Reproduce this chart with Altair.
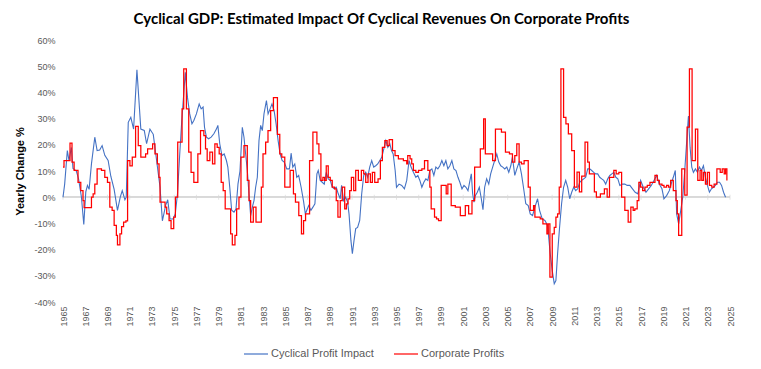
import altair as alt
import pandas as pd

# ---- data ----
blue_years = [1965.0, 1965.15, 1965.39, 1965.54, 1965.75, 1965.9, 1966.2, 1966.4, 1966.66, 1966.87,
              1967.05, 1967.2, 1967.35, 1967.56, 1967.86, 1968.07, 1968.3, 1968.52, 1968.76, 1969.06,
              1969.3, 1969.6, 1969.9, 1970.15, 1970.33, 1970.57, 1970.69, 1970.87, 1971.1, 1971.35,
              1971.65, 1971.83, 1972.0, 1972.31, 1972.52, 1972.82, 1973.12, 1973.42, 1973.73, 1973.94,
              1974.24, 1974.42, 1974.63, 1974.9, 1975.1, 1975.3, 1975.5, 1975.68, 1975.86, 1976.0,
              1976.2, 1976.4, 1976.6, 1976.77, 1977.0, 1977.25, 1977.43, 1977.6, 1977.73, 1977.9,
              1978.1, 1978.33, 1978.57, 1978.8, 1978.93, 1979.1, 1979.3, 1979.5, 1979.7, 1979.83,
              1980.0, 1980.17, 1980.38, 1980.56, 1980.74, 1980.92, 1981.13, 1981.28, 1981.43, 1981.58,
              1981.73, 1981.88, 1982.03, 1982.18, 1982.33, 1982.48, 1982.63, 1982.78, 1982.93, 1983.08,
              1983.3, 1983.45, 1983.63, 1983.8, 1983.99, 1984.17, 1984.35, 1984.53, 1984.71, 1984.9,
              1985.13, 1985.37, 1985.52, 1985.67, 1985.85, 1986.03, 1986.2, 1986.42, 1986.63, 1986.8,
              1986.93, 1987.1, 1987.3, 1987.48, 1987.66, 1987.84, 1987.96, 1988.14, 1988.32, 1988.5,
              1988.68, 1988.86, 1989.04, 1989.22, 1989.4, 1989.58, 1989.76, 1989.94, 1990.06, 1990.24,
              1990.43, 1990.6, 1990.73, 1990.9, 1991.03, 1991.18, 1991.33, 1991.5, 1991.69, 1991.87,
              1992.05, 1992.23, 1992.41, 1992.59, 1992.77, 1992.95, 1993.13, 1993.31, 1993.5, 1993.68,
              1993.86, 1994.04, 1994.22, 1994.4, 1994.55, 1994.7, 1994.88, 1995.0, 1995.23, 1995.47,
              1995.71, 1995.92, 1996.13, 1996.31, 1996.52, 1996.74, 1996.92, 1997.1, 1997.28, 1997.46,
              1997.64, 1997.82, 1998.0, 1998.18, 1998.36, 1998.54, 1998.72, 1998.9, 1999.08, 1999.26,
              1999.44, 1999.62, 1999.8, 1999.98, 2000.16, 2000.35, 2000.53, 2000.7, 2000.89, 2001.07,
              2001.25, 2001.43, 2001.61, 2001.73, 2001.85, 2001.97, 2002.09, 2002.27, 2002.45, 2002.63,
              2002.78, 2002.93, 2003.11, 2003.3, 2003.47, 2003.65, 2003.83, 2004.02, 2004.2, 2004.38,
              2004.56, 2004.74, 2004.92, 2005.1, 2005.28, 2005.43, 2005.64, 2005.82, 2006.03, 2006.24,
              2006.42, 2006.63, 2006.85, 2007.03, 2007.24, 2007.45, 2007.69, 2007.87, 2008.11, 2008.35,
              2008.59, 2008.83, 2009.01, 2009.19, 2009.34, 2009.49, 2009.67, 2009.85, 2010.03, 2010.22,
              2010.4, 2010.58, 2010.76, 2010.94, 2011.12, 2011.3, 2011.48, 2011.66, 2011.84, 2012.02,
              2012.2, 2012.38, 2012.56, 2012.74, 2012.92, 2013.1, 2013.28, 2013.46, 2013.64, 2013.82,
              2014.0, 2014.19, 2014.37, 2014.55, 2014.73, 2014.91, 2015.09, 2015.33, 2015.54, 2015.75,
              2015.99, 2016.23, 2016.47, 2016.71, 2016.96, 2017.2, 2017.44, 2017.68, 2017.92, 2018.16,
              2018.4, 2018.64, 2018.88, 2019.06, 2019.3, 2019.54, 2019.75, 2019.9, 2020.08, 2020.2,
              2020.38, 2020.57, 2020.75, 2020.93, 2021.11, 2021.26, 2021.41, 2021.56, 2021.71, 2021.89,
              2022.07, 2022.25, 2022.43, 2022.61, 2022.79, 2022.97, 2023.15, 2023.33, 2023.51, 2023.69,
              2023.88, 2024.06, 2024.24, 2024.42, 2024.6]
blue_values = [0, 5, 17.8, 14, 19, 11, 10, 7, 0, -10.4,
               2, 4.5, 3, 12.7, 22.9, 17.8, 18, 19.7, 16, 14,
               8, 3, -5, 0, 2.5, -1, 0, 28.6, 30.5, 26,
               48.6, 37, 26, 25.5, 20.4, 26, 24, 14, 3.8, -9,
               -3, -1, -8.3, -8.3, -6.4, 1.3, 16.5, 29, 39.4, 47.7,
               38, 31.8, 28, 29.3, 31.8, 35.6, 33.7, 34.4, 26.7, 22.9,
               22.3, 22.9, 24.2, 26, 27.4, 20.4, 15.9, 16.5, 14, 11.5,
               3.8, -5, -5.7, -4.5, 5, 10, 26.7, 22.9, 16.5, 10.2,
               1.3, -7, -3.8, -1.3, 3.8, 7.6, 21.6, 27.4, 25.4, 31.8,
               36.9, 31.8, 33.7, 35.6, 33, 28, 21.6, 16.5, 14, 13.4,
               10.8, 10.8, 16.8, 11.5, 12.7, 7.6, 8.3, 3.8, -1.3, -6.4,
               -5, -3.2, -5, -3.8, -2.5, 8.9, 10.2, 6.4, 5.7, 5,
               9.5, 7, 6.4, 3.8, 3.2, 3.8, 1.3, -0.6, 4.5, -1.3,
               0, -1.9, -6.4, -16.5, -21.6, -16.5, -12, -11.5, -8.9, 1.3,
               8.3, 9.5, 7.6, 11.5, 14, 11.5, 12, 12.7, 14, 15.3,
               18.4, 21.6, 19, 20.4, 17.8, 16.5, 10.2, 3.8, 5, 4.5,
               3.2, 6.4, 14, 11.5, 9.5, 7.6, 8.3, 6.4, 3.8, 5.7,
               7, 6.4, 10.2, 10.8, 8.3, 11.5, 10.8, 12, 14, 12,
               14, 10.8, 12, 14, 10.8, 10.2, 7.6, 5.7, 3.2, 4.5,
               3.8, 2.5, 6.4, 8.9, 1.3, -1.9, 0.6, 1.9, 3.8, -0.6,
               -4.8, 3.8, 7, 5, 8.9, 11.5, 14, 16.5, 13.4, 12,
               11.5, 10.8, 11.5, 9.5, 12, 15.3, 8.3, 10.8, 13.4, 8.9,
               3.8, -2.5, -3.2, -6.4, -7, -3.8, -0.6, -5, -8.3, -8.9,
               -10.8, -21.6, -28, -33, -31.8, -21.6, -11.5, -2.5, 3.8, 6.4,
               3.8, -0.6, 1.9, 3.8, 2.5, 3.2, 5.7, 6.4, 7, 7.6,
               10.8, 10.8, 10.2, 9.5, 8.9, 8.9, 7.6, 7, 6.4, 5,
               7, 8.3, 8.9, 9.5, 7.6, 7, 4.5, 5, 5, 4.5,
               4.5, 3.2, 1.9, 1.3, 6.4, 3.8, 1.9, 3.2, 4.5, 6.4,
               8.3, 5, 3.2, -0.6, 0.6, 2.5, 5.7, 7.6, 10.2, -6.4,
               -10.2, -5, 0, 10.2, 21.6, 31, 19, 11.5, 9.5, 10.8,
               9.5, 11.5, 10.2, 12, 7.6, 4.5, 1.9, 3.2, 3.8, 4.5,
               5.7, 5.7, 4.5, 1.9, 0]

red_years = [1965.0, 1965.09, 1965.63, 1965.81, 1966.0, 1966.35, 1966.6, 1966.8, 1966.9, 1967.56,
             1967.71, 1967.86, 1968.07, 1968.46, 1968.76, 1969.0, 1969.21, 1969.42, 1969.6, 1969.8,
             1969.9, 1970.12, 1970.27, 1970.45, 1970.66, 1970.81, 1971.02, 1971.23, 1971.53, 1971.77,
             1972.0, 1972.43, 1972.61, 1973.06, 1973.27, 1973.49, 1973.64, 1973.73, 1974.18, 1974.33,
             1974.54, 1974.72, 1974.96, 1975.11, 1975.32, 1975.71, 1975.86, 1976.1, 1976.31, 1976.52,
             1976.77, 1977.13, 1977.37, 1977.67, 1977.82, 1977.97, 1978.21, 1978.45, 1978.66, 1978.87,
             1979.05, 1979.23, 1979.41, 1979.59, 1980.08, 1980.23, 1980.47, 1980.62, 1980.83, 1981.01,
             1981.28, 1981.58, 1981.73, 1981.88, 1982.12, 1982.36, 1982.84, 1982.99, 1983.23, 1983.44,
             1983.68, 1983.93, 1984.29, 1984.5, 1984.68, 1984.95, 1985.43, 1985.73, 1985.91, 1986.21,
             1986.45, 1986.64, 1986.82, 1987.18, 1987.48, 1987.84, 1988.02, 1988.2, 1988.38, 1988.53,
             1988.68, 1988.86, 1989.04, 1989.22, 1989.43, 1989.58, 1989.73, 1989.94, 1990.12, 1990.34,
             1990.49, 1990.64, 1990.79, 1990.94, 1991.15, 1991.33, 1991.57, 1991.84, 1992.05, 1992.23,
             1992.44, 1992.65, 1992.83, 1993.04, 1993.34, 1993.55, 1993.73, 1993.95, 1994.16, 1994.34,
             1994.64, 1994.87, 1995.17, 1995.62, 1995.92, 1996.01, 1996.22, 1996.37, 1996.52, 1996.74,
             1996.98, 1997.28, 1997.52, 1997.82, 1998.0, 1998.12, 1998.42, 1998.6, 1998.78, 1999.02,
             1999.47, 1999.62, 1999.92, 2000.29, 2000.74, 2001.19, 2001.49, 2001.79, 2002.03, 2002.54,
             2002.84, 2002.99, 2003.65, 2003.9, 2004.44, 2004.8, 2005.16, 2005.43, 2005.64, 2005.82,
             2006.03, 2006.24, 2006.48, 2006.85, 2007.03, 2007.33, 2007.45, 2007.93, 2008.17, 2008.53,
             2008.65, 2008.8, 2009.01, 2009.19, 2009.34, 2009.49, 2009.64, 2009.79, 2010.03, 2010.24,
             2010.46, 2010.76, 2011.0, 2011.24, 2011.45, 2011.66, 2011.96, 2012.2, 2012.35, 2012.8,
             2012.98, 2013.34, 2013.7, 2013.95, 2014.16, 2014.55, 2014.76, 2015.0, 2015.25, 2015.54,
             2015.84, 2016.08, 2016.29, 2016.44, 2016.65, 2016.8, 2016.96, 2017.14, 2017.35, 2017.56,
             2017.8, 2018.25, 2018.46, 2018.64, 2018.88, 2019.06, 2019.3, 2019.48, 2019.66, 2019.9,
             2020.14, 2020.26, 2020.38, 2020.66, 2020.93, 2021.14, 2021.35, 2021.59, 2021.89, 2022.1,
             2022.31, 2022.46, 2022.61, 2022.79, 2022.97, 2023.15, 2023.36, 2023.57, 2023.82, 2024.12,
             2024.3, 2024.48, 2024.6, 2024.72]
red_values = [11.5, 14, 20.6, 13.4, 10.2, 5.7, 2.5, -1.3, -4, 0,
              1.3, 5, 10.8, 10.2, 7.6, 5.7, -3.8, -5, -10.8, -14.6,
              -18.2, -14, -11.2, -9.5, -9, 14, 12, 15.3, 27, 19.7,
              15.3, 16.5, 18.4, 20.4, 16.5, 12.7, 7.6, -1.9, -3.8, -6.4,
              -8.9, -12, -7.6, 0, 21, 33.7, 49, 33.7, 17.2, 9.5,
              5.7, 16.5, 25.4, 23.5, 18.4, 14, 17.2, 12.7, 20.4, 19,
              16.5, 5.7, 2.5, -4.5, -14, -18.2, -14.6, -4.5, 0, 15.3,
              19.7, 6.4, -1.3, -9.5, -3.8, -9.5, 3.8, 16.5, 21, 25.4,
              33, 38, 24, 16.5, 15.3, 3.8, 10.2, 1.3, -1.9, -7,
              -14, -8.9, -6.4, 14, 24.8, 20.4, 16.5, 6.4, 7.6, 6.4,
              12, 7.6, 6.4, 3.8, 3.2, -1.3, -7.6, -1.3, 3.8, -4.5,
              -2.5, -0.6, 2.5, 7.6, 2.5, 10.2, 6.4, 10.2, 8.9, 5.7,
              8.9, 5.7, 9.5, 5.7, 7, 14, 19, 21.6, 19.7, 22,
              17.8, 15.9, 14.6, 14, 12.7, 15.9, 14.6, 12.7, 10.2, 9.5,
              10.2, 10.8, 14, 10.2, 3.8, -4.5, -7.6, -8.3, -8.9, 4.5,
              1.3, 5, -3.2, -3.8, -7, -3.2, -6.4, -1.3, 11.5, 18.4,
              29.9, 16.5, 14, 26, 24.8, 17.2, 16.5, 13.4, 15.9, 20.4,
              13.4, 12.7, 14, 3.8, -5, -3.2, -7.6, -8.3, -10.2, -14,
              -10.2, -30.5, -14, -11.5, -7.6, -6.4, 3.8, 49, 30.5, 28,
              24.2, 17.8, 3.8, 9.6, 2, 8, 21, 13.4, 8.9, 2,
              0, 1.3, 3.2, 0, 7.6, 10.2, 8.9, 9.5, 0, -5,
              -9.5, -3.8, -5, -4.5, -1.3, 5.7, 3.8, 2.5, 3.8, 4.5,
              5.7, 8.3, 6.4, 5, 4.5, 3.8, 4.5, 3.8, 6.4, 2.5,
              -1.3, -6.4, -14.6, 10.8, 0.8, 26.7, 49, 14, 26, 6.4,
              10.2, 6.4, 9.5, 5, 9.5, 4.5, 3.8, 5, 10.8, 9.5,
              10.8, 8.9, 10.8, 6.4]

series_names = ["Cyclical Profit Impact", "Corporate Profits"]
series_colors = ["#4472C4", "#FF0000"]
x_tick_years = list(range(1965, 2026, 2))
y_tick_values = list(range(-40, 61, 10))

blue_df = pd.DataFrame({"year": blue_years, "value": blue_values, "series": series_names[0]})
red_df = pd.DataFrame({"year": red_years, "value": red_values, "series": series_names[1]})
tick_df = pd.DataFrame({"year": x_tick_years})

FONT = "Liberation Sans"
GREY = "#595959"

x_axis = alt.Axis(values=x_tick_years, format="d", labelAngle=270, labelAlign="right",
                  labelBaseline="middle", grid=False, domain=False, ticks=False,
                  labelOverlap=False, labelPadding=4, labelFontSize=9, labelColor=GREY,
                  labelFont=FONT, title=None)
y_axis = alt.Axis(values=y_tick_values, labelExpr="datum.value + '%'", grid=False, domain=False,
                  ticks=False, labelOverlap=False, labelPadding=8, labelFontSize=9,
                  labelColor=GREY, labelFont=FONT,
                  title="Yearly Change %", titleFont=FONT, titleFontSize=11, titleFontWeight="bold",
                  titleColor="#000000", titleX=-43, titleY=131, titleAngle=270,
                  titleAlign="center", titleBaseline="middle")
x_scale = alt.Scale(domain=[1965, 2025], nice=False, zero=False)
y_scale = alt.Scale(domain=[-40, 60], nice=False)

x_enc = alt.X("year:Q", scale=x_scale, axis=x_axis)
y_enc = alt.Y("value:Q", scale=y_scale, axis=y_axis)
color_enc = alt.Color(
    "series:N",
    scale=alt.Scale(domain=series_names, range=series_colors),
    legend=alt.Legend(title=None, orient="none", direction="horizontal", legendX=180, legendY=301,
                      symbolType="stroke", symbolSize=576, symbolStrokeWidth=1.2,
                      labelFont=FONT, labelFontSize=11, labelColor=GREY, labelOffset=2,
                      columnPadding=17),
)

zero_rule = alt.Chart(tick_df).mark_rule(color="#d9d9d9", strokeWidth=1).encode(
    y=alt.Y(datum=0, scale=y_scale, axis=y_axis)
)
zero_ticks = alt.Chart(tick_df).mark_tick(color="#d9d9d9", orient="vertical", size=5, thickness=1).encode(
    x=x_enc, y=alt.Y(datum=0, scale=y_scale, axis=y_axis)
)
blue_line = alt.Chart(blue_df).mark_line(strokeWidth=1.1).encode(
    x=x_enc, y=y_enc, color=color_enc, order="year:Q"
)
red_line = alt.Chart(red_df).mark_line(strokeWidth=1.25, interpolate="step-after").encode(
    x=x_enc, y=y_enc, color=color_enc, order="year:Q"
)

chart = alt.layer(zero_rule, zero_ticks, blue_line, red_line).properties(
    width=667, height=262,
    autosize=alt.AutoSizeParams(type="none"),
    padding={"left": 55, "top": 32, "right": 23, "bottom": 59},
    title=alt.TitleParams(
        "Cyclical GDP: Estimated Impact Of Cyclical Revenues On Corporate Profits",
        font="Lato", fontSize=15, fontWeight="bold", color="#000000", anchor="middle",
        offset=9, dx=-15,
    ),
).configure_view(stroke=None).configure_axis(labelOverlap=False)

chart.save("out.html", embed_options={"renderer": "svg", "actions": False})
